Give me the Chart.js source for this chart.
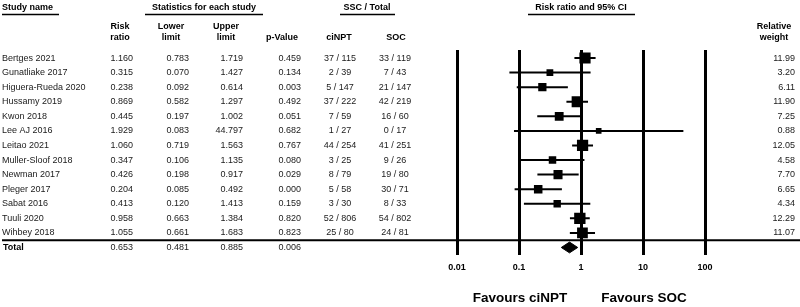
<!DOCTYPE html>
<html><head><meta charset="utf-8">
<script src="https://cdn.jsdelivr.net/npm/chart.js@4.4.1/dist/chart.umd.min.js"></script>
<style>html,body{margin:0;padding:0;background:#fff;}#wrap{width:800px;height:307px;}</style>
</head><body><div id="wrap"><canvas id="c" width="800" height="307"></canvas></div>
<script>
const studies = ['Bertges 2021','Gunatliake 2017','Higuera-Rueda 2020','Hussamy 2019','Kwon 2018','Lee AJ 2016','Leitao 2021','Muller-Sloof 2018','Newman 2017','Pleger 2017','Sabat 2016','Tuuli 2020','Wihbey 2018'];
const riskRatio = [1.160,0.315,0.238,0.869,0.445,1.929,1.060,0.347,0.426,0.204,0.413,0.958,1.055];
const lowerLimit = [0.783,0.070,0.092,0.582,0.197,0.083,0.719,0.106,0.198,0.085,0.120,0.663,0.661];
const upperLimit = [1.719,1.427,0.614,1.297,1.002,44.797,1.563,1.135,0.917,0.492,1.413,1.384,1.683];
const pValues = [0.459,0.134,0.003,0.492,0.051,0.682,0.767,0.080,0.029,0.000,0.159,0.820,0.823];
const ciNPT = ['37 / 115','2 / 39','5 / 147','37 / 222','7 / 59','1 / 27','44 / 254','3 / 25','8 / 79','5 / 58','3 / 30','52 / 806','25 / 80'];
const soc = ['33 / 119','7 / 43','21 / 147','42 / 219','16 / 60','0 / 17','41 / 251','9 / 26','19 / 80','30 / 71','8 / 33','54 / 802','24 / 81'];
const relWeight = [11.99,3.20,6.11,11.90,7.25,0.88,12.05,4.58,7.70,6.65,4.34,12.29,11.07];
const totalLabel = 'Total';
const totalRR = 0.653, totalLower = 0.481, totalUpper = 0.885, totalP = 0.006;
const tickValues = [0.01,0.1,1,10,100];
const tickLabels = ['0.01','0.1','1','10','100'];

const FONT = '"Liberation Sans", Arial, sans-serif';
const totalRow = studies.length;

const ciDatasets = studies.map((s,i)=>({
  type:'line', label:s+' CI',
  data:[{x:lowerLimit[i],y:i},{x:upperLimit[i],y:i}],
  borderColor:'#000', borderWidth:2, pointRadius:0, fill:false
}));
const squares = {
  type:'scatter', label:'Risk ratio',
  data: riskRatio.map((v,i)=>({x:v,y:i})),
  pointStyle:'rect', backgroundColor:'#000', borderWidth:0,
  pointRadius: c => (5.2 + 0.5*relWeight[c.dataIndex]) / Math.SQRT2,
  pointHoverRadius: c => (5.2 + 0.5*relWeight[c.dataIndex]) / Math.SQRT2
};
const DH = 0.37;
const diamond = {
  type:'line', label:'Total',
  data:[{x:totalLower,y:totalRow},{x:totalRR,y:totalRow-DH},{x:totalUpper,y:totalRow},{x:totalRR,y:totalRow+DH},{x:totalLower,y:totalRow}],
  borderColor:'#000', backgroundColor:'#000', borderWidth:1, pointRadius:0, fill:'shape', tension:0
};

function txt(ctx, t, x, y, align, font){ ctx.font = font; ctx.textAlign = align; ctx.fillText(t, x, y); }
function hline(ctx, x1, x2, y, w){ ctx.lineWidth = w; ctx.beginPath(); ctx.moveTo(x1,y); ctx.lineTo(x2,y); ctx.stroke(); }

const tablePlugin = {
  id:'table',
  afterDraw(chart){
    const ctx = chart.ctx, ys = chart.scales.y;
    const B = 'bold 9px '+FONT, R = '9px '+FONT;
    ctx.save();
    ctx.fillStyle = '#000'; ctx.strokeStyle = '#000'; ctx.textBaseline = 'middle';
    // group headers
    txt(ctx,'Study name',2,8,'left',B); hline(ctx,2,59,14.5,1.5);
    txt(ctx,'Statistics for each study',204,8,'center',B); hline(ctx,145,263,14.5,1.5);
    txt(ctx,'SSC / Total',367,8,'center',B); hline(ctx,340,395,14.5,1.5);
    txt(ctx,'Risk ratio and 95% CI',581,8,'center',B); hline(ctx,528,635,14.5,1.5);
    // column headers
    txt(ctx,'Risk',120,27,'center',B); txt(ctx,'ratio',120,38,'center',B);
    txt(ctx,'Lower',171,27,'center',B); txt(ctx,'limit',171,38,'center',B);
    txt(ctx,'Upper',226,27,'center',B); txt(ctx,'limit',226,38,'center',B);
    txt(ctx,'p-Value',282,38,'center',B);
    txt(ctx,'ciNPT',339,38,'center',B);
    txt(ctx,'SOC',396,38,'center',B);
    txt(ctx,'Relative',774,27,'center',B); txt(ctx,'weight',774,38,'center',B);
    ctx.fillStyle = '#1a1a1a';
    studies.forEach((s,i)=>{
      const py = ys.getPixelForValue(i);
      txt(ctx,s,2,py,'left',R);
      txt(ctx,riskRatio[i].toFixed(3),133,py,'right',R);
      txt(ctx,lowerLimit[i].toFixed(3),189,py,'right',R);
      txt(ctx,upperLimit[i].toFixed(3),243,py,'right',R);
      txt(ctx,pValues[i].toFixed(3),301,py,'right',R);
      txt(ctx,ciNPT[i],340,py,'center',R);
      txt(ctx,soc[i],395,py,'center',R);
      txt(ctx,relWeight[i].toFixed(2),795,py,'right',R);
    });
    const pt = ys.getPixelForValue(totalRow);
    ctx.fillStyle = '#000';
    txt(ctx,totalLabel,3,pt,'left',B);
    ctx.fillStyle = '#1a1a1a';
    txt(ctx,totalRR.toFixed(3),133,pt,'right',R);
    txt(ctx,totalLower.toFixed(3),189,pt,'right',R);
    txt(ctx,totalUpper.toFixed(3),243,pt,'right',R);
    txt(ctx,totalP.toFixed(3),301,pt,'right',R);
    // separator
    ctx.strokeStyle = '#000';
    hline(ctx,2,800,ys.getPixelForValue(totalRow-0.5),2);
    // favours labels
    ctx.fillStyle = '#000';
    txt(ctx,'Favours ciNPT',520,298,'center','bold 13.5px '+FONT);
    txt(ctx,'Favours SOC',644,298,'center','bold 13.5px '+FONT);
    ctx.restore();
  }
};

new Chart(document.getElementById('c'), {
  type:'scatter',
  data:{ datasets:[...ciDatasets, squares, diamond] },
  options:{
    responsive:false, animation:false, devicePixelRatio:1,
    layout:{ padding:{ left:457, right:95, top:50, bottom:27 } },
    plugins:{ legend:{display:false}, tooltip:{enabled:false} },
    scales:{
      x:{ type:'logarithmic', min:0.01, max:100, position:'bottom',
        afterBuildTicks: s => { s.ticks = tickValues.map(v=>({value:v})); },
        ticks:{ callback:(v,i)=>tickLabels[i], font:{family:FONT,size:9,weight:'bold'}, color:'#000', padding:7, maxRotation:0, autoSkip:false },
        grid:{ color:'#000', lineWidth:3, drawTicks:false, offset:false },
        border:{ display:false }
      },
      y:{ type:'linear', display:false, reverse:true, min:-0.55, max:13.53 }
    }
  },
  plugins:[tablePlugin]
});
</script></body></html>
